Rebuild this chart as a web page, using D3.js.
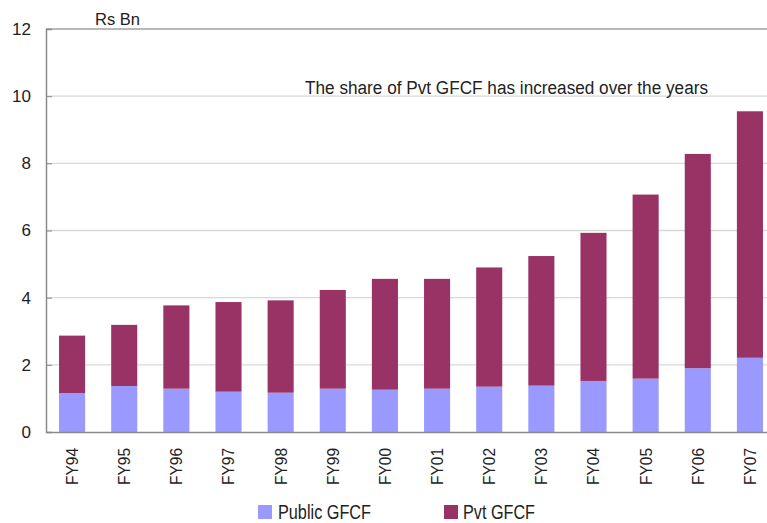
<!DOCTYPE html>
<html><head><meta charset="utf-8">
<script src="https://cdn.jsdelivr.net/npm/d3@7"></script>
<style>body{margin:0;background:#fff}svg{display:block}</style>
</head><body>
<svg id="c" width="767" height="523"></svg>
<script>
const categories = ["FY94","FY95","FY96","FY97","FY98","FY99","FY00","FY01","FY02","FY03","FY04","FY05","FY06","FY07"];
const publicGFCF = [1.16,1.37,1.29,1.20,1.17,1.29,1.26,1.29,1.35,1.38,1.52,1.59,1.90,2.21];
const pvtGFCF    = [1.71,1.82,2.48,2.67,2.75,2.94,3.30,3.27,3.55,3.86,4.41,5.48,6.38,7.34];
const yTicks = [0,2,4,6,8,10,12];
const seriesNames = ["Public GFCF","Pvt GFCF"];
const colors = ["#9999FF","#993366"];

const font = "'Liberation Sans',Arial,sans-serif";
const svg = d3.select("#c");
const x = d3.scaleBand().domain(categories).range([46,776]).paddingInner(0.5).paddingOuter(0.25);
const y = d3.scaleLinear().domain([0,12]).range([432,29]);

// gridlines
svg.append("g").selectAll("line").data(yTicks.filter(d=>d>0)).join("line")
  .attr("x1",46).attr("x2",767).attr("y1",d=>y(d)).attr("y2",d=>y(d))
  .attr("stroke",d=>d===12?"#a0a0a0":"#d8d8d8").attr("stroke-width",1.3);

// bars
const rows = categories.map((c,i)=>({cat:c,"Public GFCF":publicGFCF[i],"Pvt GFCF":pvtGFCF[i]}));
const stack = d3.stack().keys(seriesNames)(rows);
svg.append("g").selectAll("g").data(stack).join("g").attr("fill",(d,i)=>colors[i])
  .selectAll("rect").data(d=>d).join("rect")
  .attr("x",d=>x(d.data.cat)).attr("width",x.bandwidth())
  .attr("y",d=>y(d[1])).attr("height",d=>y(d[0])-y(d[1]));

// y axis
const ya = svg.append("g").attr("transform","translate(46,0)")
  .call(d3.axisLeft(y).tickValues(yTicks).tickSize(-6).tickPadding(15).tickFormat(d3.format("d")));
ya.select(".domain").attr("stroke","#8a8a8a").attr("stroke-width",1.5);
ya.selectAll(".tick line").attr("stroke","#8a8a8a");
ya.selectAll("text").attr("font-family",font).attr("font-size",17).attr("fill","#222");

// x axis
const xa = svg.append("g").attr("transform","translate(0,432)")
  .call(d3.axisBottom(x).tickSize(0).tickPadding(0));
xa.select(".domain").attr("stroke","#8a8a8a").attr("stroke-width",1.5);
xa.selectAll("text").attr("font-family",font).attr("font-size",17).attr("fill","#222")
  .attr("textLength",37).attr("lengthAdjust","spacingAndGlyphs")
  .attr("transform","rotate(-90)").attr("text-anchor","end").attr("dy","0.35em").attr("x",-16).attr("y",0);

// unit label & annotation
svg.append("text").attr("x",95).attr("y",25).attr("font-family",font).attr("font-size",17).attr("fill","#222")
  .attr("textLength",45).attr("lengthAdjust","spacingAndGlyphs").text("Rs Bn");
svg.append("text").attr("x",305).attr("y",94).attr("font-family",font).attr("font-size",18).attr("fill","#222")
  .attr("textLength",403).attr("lengthAdjust","spacingAndGlyphs").text("The share of Pvt GFCF has increased over the years");

// legend
const legX = [258,444];
const legW = [93,72];
const lg = svg.append("g").selectAll("g").data(seriesNames).join("g").attr("transform",(d,i)=>`translate(${legX[i]},505)`);
lg.append("rect").attr("width",14).attr("height",14).attr("fill",(d,i)=>colors[i]);
lg.append("text").attr("x",d=>d===seriesNames[0]?20:19).attr("y",14).attr("font-family",font).attr("font-size",20).attr("fill","#222")
  .attr("textLength",(d,i)=>legW[i]).attr("lengthAdjust","spacingAndGlyphs").text(d=>d);
</script>
</body></html>
